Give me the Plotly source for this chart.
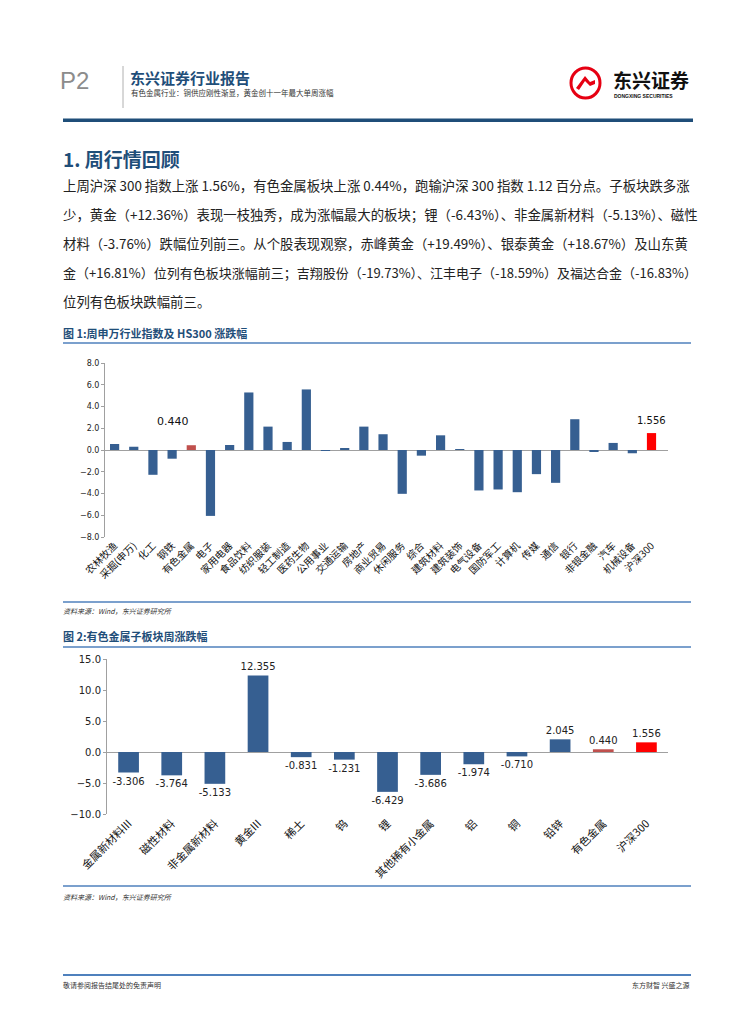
import plotly.graph_objects as go

# ---------------- data ----------------
ind_categories = ["农林牧渔", "采掘(申万)", "化工", "钢铁", "有色金属", "电子", "家用电器", "食品饮料",
                  "纺织服装", "轻工制造", "医药生物", "公用事业", "交通运输", "房地产", "商业贸易",
                  "休闲服务", "综合", "建筑材料", "建筑装饰", "电气设备", "国防军工", "计算机", "传媒",
                  "通信", "银行", "非银金融", "汽车", "机械设备", "沪深300"]
ind_values = [0.55, 0.30, -2.28, -0.80, 0.440, -6.06, 0.46, 5.29, 2.15, 0.74, 5.57, -0.05, 0.10,
              2.15, 1.45, -4.03, -0.52, 1.35, 0.02, -3.72, -3.63, -3.88, -2.22, -3.02, 2.83, -0.10,
              0.65, -0.30, 1.556]
ind_ticks = [-8, -6, -4, -2, 0, 2, 4, 6, 8]

sub_categories = ["金属新材料III", "磁性材料", "非金属新材料", "黄金III", "稀土", "钨", "锂",
                  "其他稀有小金属", "铝", "铜", "铅锌", "有色金属", "沪深300"]
sub_values = [-3.306, -3.764, -5.133, 12.355, -0.831, -1.231, -6.429, -3.686, -1.974, -0.710,
              2.045, 0.440, 1.556]
sub_ticks = [-10, -5, 0, 5, 10, 15]

body_lines = [
    "上周沪深 300 指数上涨 1.56%，有色金属板块上涨 0.44%，跑输沪深 300 指数 1.12 百分点。子板块跌多涨",
    "少，黄金（+12.36%）表现一枝独秀，成为涨幅最大的板块；锂（-6.43%）、非金属新材料（-5.13%）、磁性",
    "材料（-3.76%）跌幅位列前三。从个股表现观察，赤峰黄金（+19.49%）、银泰黄金（+18.67%）及山东黄",
    "金（+16.81%）位列有色板块涨幅前三；吉翔股份（-19.73%）、江丰电子（-18.59%）及福达合金（-16.83%）",
    "位列有色板块跌幅前三。",
]
body_sizes = [13.4, 13.4, 13.4, 13.0, 13.4]

# ---------------- styles ----------------
W, H = 755, 1024
OX, OY = 8, 8  # page body margin of the html document
CJK = "Noto Sans CJK SC"
BLUE = "#365f91"
DARK = "#1f4e79"
LINE = "#4f81bd"
AXIS = "#a0a0a0"


def colour(cat):
    if cat == "有色金属":
        return "#c0504d"
    if cat == "沪深300":
        return "#ff0000"
    return BLUE


def px(x):
    return (x - OX) / W


def py(y):
    return 1 - (y - OY) / H


fig = go.Figure()

fig.add_trace(go.Bar(x=ind_categories, y=ind_values, xaxis="x", yaxis="y",
                     marker=dict(color=[colour(c) for c in ind_categories], line=dict(width=0)),
                     showlegend=False, hoverinfo="x+y"))

fig.add_trace(go.Bar(x=sub_categories, y=sub_values, xaxis="x2", yaxis="y2",
                     marker=dict(color=[colour(c) for c in sub_categories], line=dict(width=0)),
                     text=[f"{v:.3f}" for v in sub_values], textposition="outside",
                     constraintext="none",
                     textfont=dict(family="DejaVu Sans", size=10, color="#222"),
                     cliponaxis=False, showlegend=False, hoverinfo="x+y"))

axis_common = dict(showgrid=False, zeroline=False, automargin=False)


def boundary_axis(n, overlay, y_zero_px):
    # small tick marks on the zero line between categories
    return dict(overlaying=overlay, anchor="free", position=py(y_zero_px), side="bottom",
                range=[-0.5, n - 0.5], tickvals=[i + 0.5 for i in range(-1, n)],
                showticklabels=False, ticks="outside", ticklen=3, tickcolor=AXIS,
                showline=False, showgrid=False, zeroline=False, automargin=False,
                fixedrange=True)


fig.update_layout(
    width=W, height=H, margin=dict(l=0, r=0, t=0, b=0, pad=0, autoexpand=False),
    paper_bgcolor="white", plot_bgcolor="white",
    bargap=0.52,
    xaxis=dict(domain=[px(105), px(668)], anchor="y", **axis_common, showline=False,
               tickangle=-45, ticks="", tickfont=dict(family=CJK, size=10, color="#111"),
               fixedrange=True),
    yaxis=dict(domain=[py(537), py(363)], anchor="x", range=[-8, 8], tickvals=ind_ticks,
               tickformat=".1f", showgrid=False, zeroline=True, zerolinecolor=AXIS,
               zerolinewidth=1, showline=True, linecolor=AXIS, ticks="outside", ticklen=3,
               tickcolor=AXIS, automargin=False,
               tickfont=dict(family="DejaVu Sans", size=8, color="#222")),
    xaxis2=dict(domain=[px(107), px(668)], anchor="y2", **axis_common, showline=False,
                tickangle=-45, ticks="", tickfont=dict(family=CJK, size=11, color="#111")),
    yaxis2=dict(domain=[py(814), py(659)], anchor="x2", range=[-10, 15], tickvals=sub_ticks,
                tickformat=".1f", showgrid=False, zeroline=True, zerolinecolor=AXIS,
                zerolinewidth=1, showline=True, linecolor=AXIS, ticks="outside", ticklen=3,
                tickcolor=AXIS, automargin=False,
                tickfont=dict(family="DejaVu Sans", size=10, color="#222")),
    xaxis3=boundary_axis(len(ind_categories), "x", 450),
    xaxis4=boundary_axis(len(sub_categories), "x2", 752),
)

shapes = []
ann = []


def hline(y, x0, x1, color, width):
    shapes.append(dict(type="line", xref="paper", yref="paper", x0=px(x0), x1=px(x1),
                       y0=py(y), y1=py(y), line=dict(color=color, width=width)))


def text(x, y, s, size, color="#222", bold=False, family=CJK, xanchor="left", italic=False):
    if bold:
        s = f"<b>{s}</b>"
    if italic:
        s = f"<i>{s}</i>"
    ann.append(dict(xref="paper", yref="paper", x=px(x), y=py(y), text=s, showarrow=False,
                    xanchor=xanchor, yanchor="middle",
                    font=dict(family=family, size=size, color=color)))


# header
text(58, 80, "P2", 24, color="#8c8c8c", family="Liberation Sans")
shapes.append(dict(type="line", xref="paper", yref="paper", x0=px(123), x1=px(123),
                   y0=py(66), y1=py(108), line=dict(color="#b0b0b0", width=1)))
text(128, 77, "东兴证券行业报告", 15, color=DARK, bold=True)
text(129, 92, "有色金属行业：铜供应刚性渐显，黄金创十一年最大单周涨幅", 7.5, color="#333")
# logo
shapes.append(dict(type="circle", xref="paper", yref="paper", x0=px(571), x1=px(600),
                   y0=py(98), y1=py(68), line=dict(color="#e60012", width=3), fillcolor="white"))
shapes.append(dict(type="path", xref="paper", yref="paper",
                   path=f"M {px(576)} {py(88)} L {px(585)} {py(76)} L {px(590)} {py(82)} "
                        f"L {px(595)} {py(80)} L {px(595)} {py(84)} L {px(590)} {py(86)} "
                        f"L {px(585)} {py(81)} L {px(579)} {py(90)} Z",
                   fillcolor="#e60012", line=dict(width=0)))
text(611, 79, "东兴证券", 19, color="#111", bold=True)
text(612, 96, "DONGXING SECURITIES", 5, color="#111", family="Liberation Sans", bold=True)
shapes.append(dict(type="rect", xref="paper", yref="paper", x0=px(63), x1=px(693),
                   y0=py(122), y1=py(118.5), fillcolor=DARK, line=dict(width=0)))

# section heading & body
text(61, 158, "1. 周行情回顾", 19, color=DARK, bold=True)
for i, line in enumerate(body_lines):
    text(61, 185 + 29 * i, line, body_sizes[i], color="#222")

# figure 1 header
text(61, 333, "图 1:周申万行业指数及 HS300 涨跌幅", 11, color=DARK, bold=True)
hline(343, 63, 691, LINE, 1.5)
# chart 1 data labels
ann.append(dict(xref="x", yref="y", x=ind_categories[4], y=ind_values[4],
                text=f"{ind_values[4]:.3f}", showarrow=False, yshift=24, xshift=-18,
                font=dict(family="DejaVu Sans", size=11, color="#111")))
ann.append(dict(xref="x", yref="y", x=ind_categories[-1], y=ind_values[-1],
                text=f"{ind_values[-1]:.3f}", showarrow=False, yshift=13,
                font=dict(family="DejaVu Sans", size=10, color="#111")))

hline(602, 63, 691, LINE, 1.5)
text(61, 611, "资料来源：Wind，东兴证券研究所", 7, color="#333", italic=True)

# figure 2 header
text(61, 636, "图 2:有色金属子板块周涨跌幅", 11, color=DARK, bold=True)
hline(647, 63, 691, LINE, 1.5)

hline(886, 63, 691, LINE, 1.5)
text(61, 897, "资料来源：Wind，东兴证券研究所", 7, color="#333", italic=True)

# footer
hline(975, 63, 691, LINE, 2)
text(61, 985, "敬请参阅报告结尾处的免责声明", 7, color="#333")
text(692, 985, "东方财智 兴盛之源", 7, color="#333", xanchor="right")

fig.update_layout(shapes=shapes, annotations=ann)

fig.write_html("out.html")
